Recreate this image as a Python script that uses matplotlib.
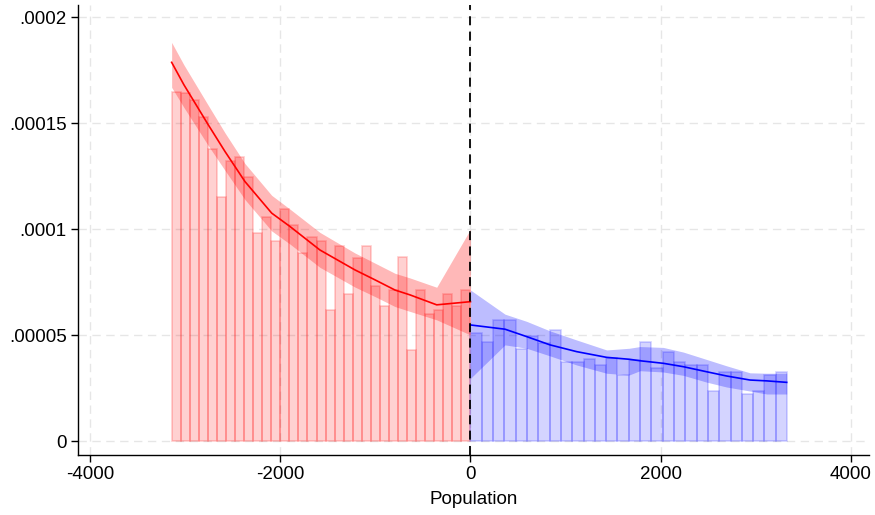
import numpy as np
import matplotlib
matplotlib.use("Agg")
import matplotlib.pyplot as plt

plt.rcParams['font.family'] = ['Liberation Sans', 'DejaVu Sans']

# ---- data ----
left_start, left_width = -3142, 95.2
left_heights = [1.649e-4, 1.644e-4, 1.608e-4, 1.530e-4, 1.379e-4, 1.152e-4, 1.324e-4,
                1.341e-4, 1.247e-4, 0.982e-4, 1.056e-4, 0.946e-4, 1.095e-4, 1.018e-4,
                0.886e-4, 0.962e-4, 0.946e-4, 0.618e-4, 0.923e-4, 0.694e-4, 0.865e-4,
                0.923e-4, 0.733e-4, 0.638e-4, 0.713e-4, 0.867e-4, 0.429e-4, 0.714e-4,
                0.599e-4, 0.619e-4, 0.695e-4, 0.638e-4, 0.714e-4]
right_start, right_width = 0, 118.9
right_heights = [0.512e-4, 0.467e-4, 0.571e-4, 0.571e-4, 0.435e-4, 0.494e-4, 0.463e-4,
                 0.526e-4, 0.374e-4, 0.374e-4, 0.389e-4, 0.358e-4, 0.391e-4, 0.312e-4,
                 0.381e-4, 0.466e-4, 0.345e-4, 0.419e-4, 0.372e-4, 0.359e-4, 0.359e-4,
                 0.236e-4, 0.328e-4, 0.328e-4, 0.221e-4, 0.237e-4, 0.312e-4, 0.328e-4]

left_x = [-3142, -3013, -2757, -2581, -2371, -2090, -1898, -1583, -1215, -1004, -794, -636, -355, 0]
left_fit = [1.788e-4, 1.682e-4, 1.493e-4, 1.367e-4, 1.225e-4, 1.076e-4, 1.013e-4,
            0.902e-4, 0.808e-4, 0.761e-4, 0.713e-4, 0.690e-4, 0.643e-4, 0.658e-4]
left_hi = [1.882e-4, 1.776e-4, 1.585e-4, 1.455e-4, 1.310e-4, 1.160e-4, 1.095e-4,
           0.985e-4, 0.888e-4, 0.840e-4, 0.792e-4, 0.770e-4, 0.726e-4, 1.000e-4]
left_lo = [1.670e-4, 1.575e-4, 1.395e-4, 1.278e-4, 1.140e-4, 0.992e-4, 0.930e-4,
           0.820e-4, 0.727e-4, 0.682e-4, 0.635e-4, 0.612e-4, 0.572e-4, 0.501e-4]

right_x = [0, 363, 591, 836, 1117, 1432, 1670, 1782, 2027, 2238, 2484, 2694, 2939, 3115, 3325]
right_fit = [5.48e-5, 5.28e-5, 4.93e-5, 4.54e-5, 4.22e-5, 3.95e-5, 3.86e-5, 3.79e-5,
             3.67e-5, 3.51e-5, 3.27e-5, 3.07e-5, 2.88e-5, 2.84e-5, 2.77e-5]
right_hi = [7.13e-5, 5.99e-5, 5.65e-5, 5.20e-5, 4.77e-5, 4.30e-5, 4.38e-5, 4.46e-5,
            4.42e-5, 4.20e-5, 3.85e-5, 3.55e-5, 3.22e-5, 3.20e-5, 3.20e-5]
right_lo = [2.96e-5, 4.54e-5, 4.38e-5, 4.02e-5, 3.59e-5, 3.20e-5, 3.12e-5, 3.32e-5,
            3.26e-5, 3.10e-5, 2.78e-5, 2.55e-5, 2.36e-5, 2.22e-5, 2.22e-5]

xticks = [-4000, -2000, 0, 2000, 4000]
yticks = [0, 0.00005, 0.0001, 0.00015, 0.0002]
ytick_labels = ['0', '.00005', '.0001', '.00015', '.0002']

# ---- figure ----
fig = plt.figure(figsize=(8.75, 5.15), dpi=100)
ax = fig.add_axes([0.0891, 0.1165, 0.904, 0.8735])

for xv in xticks:
    ax.axvline(xv, color='#e6e6e6', lw=1.0, ls=(0, (6, 4)), zorder=0)
for yv in yticks:
    ax.axhline(yv, color='#e6e6e6', lw=1.0, ls=(0, (6, 4)), zorder=0)

lx = left_start + left_width * np.arange(len(left_heights))
rx = right_start + right_width * np.arange(len(right_heights))
ax.bar(lx, left_heights, width=left_width, align='edge',
       facecolor=(1, 0, 0, 0.18), edgecolor=(1, 0, 0, 0.2), linewidth=1.2, zorder=1)
ax.bar(rx, right_heights, width=right_width, align='edge',
       facecolor=(0, 0, 1, 0.17), edgecolor=(0, 0, 1, 0.18), linewidth=1.2, zorder=1)

ax.fill_between(left_x, left_lo, left_hi, color=(1, 0, 0, 0.28), lw=0, zorder=2)
ax.fill_between(right_x, right_lo, right_hi, color=(0, 0, 1, 0.26), lw=0, zorder=2)
ax.plot(left_x, left_fit, color='red', lw=1.2, zorder=3)
ax.plot(right_x, right_fit, color='blue', lw=1.2, zorder=3)

ax.axvline(0, color='black', lw=1.3, ls=(0, (5, 3.5)), zorder=4)

ax.set_xlim(-4127, 4190)
ax.set_ylim(-6.6e-6, 0.0002058)
ax.set_xticks(xticks)
ax.set_xticklabels([str(v) for v in xticks])
ax.set_yticks(yticks)
ax.set_yticklabels(ytick_labels)
ax.tick_params(direction='out', length=5, width=1, labelsize=13.5, colors='black', pad=3)
for s in ['top', 'right']:
    ax.spines[s].set_visible(False)
for s in ['left', 'bottom']:
    ax.spines[s].set_linewidth(1.0)
ax.set_xlabel('Population', fontsize=13.5, labelpad=6)

fig.savefig('out.png', dpi=100)
